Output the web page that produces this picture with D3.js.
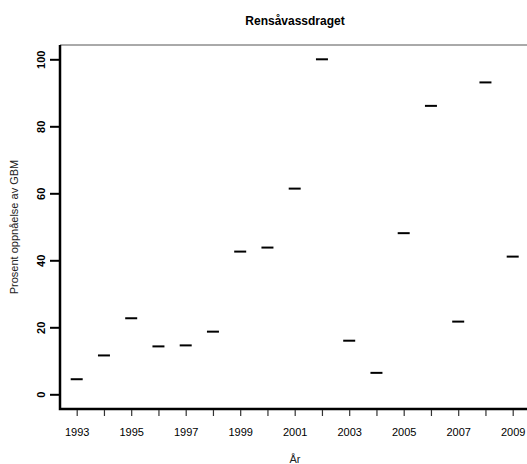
<!DOCTYPE html>
<meta charset="utf-8">
<style>
  body { margin: 0; background: #fff; }
  text { font-family: "Liberation Sans", Arial, sans-serif; }
</style>
<body>
<script src="https://cdn.jsdelivr.net/npm/d3@7"></script>
<script>
  // data
  var years = [1993, 1994, 1995, 1996, 1997, 1998, 1999, 2000, 2001,
               2002, 2003, 2004, 2005, 2006, 2007, 2008, 2009];
  var values = [4.5, 11.6, 22.7, 14.3, 14.6, 18.7, 42.6, 43.8, 61.4,
                100, 16.0, 6.4, 48.1, 86.1, 21.7, 93.1, 41.1];
  var yTicks = [0, 20, 40, 60, 80, 100];
  var xLabelYears = [1993, 1995, 1997, 1999, 2001, 2003, 2005, 2007, 2009];

  var W = 527, H = 464;
  var svg = d3.select("body").append("svg")
      .attr("width", W)
      .attr("height", H);

  // plot box (right edge runs past the window, like the original)
  var box = {left: 60, top: 45, right: 530, bottom: 409};

  var x = d3.scaleLinear().domain([1993, 2009]).range([76.7, 512.7]);
  var y = d3.scaleLinear().domain([0, 100]).range([394.3, 59.3]);

  // thin top / right frame
  svg.append("path")
      .attr("d", "M" + box.left + "," + box.top + "H" + box.right + "V" + box.bottom)
      .attr("fill", "none")
      .attr("stroke", "#555")
      .attr("stroke-width", 1);

  // y axis (thick, bold labels, rotated)
  var yAxis = svg.append("g")
      .attr("transform", "translate(" + box.left + ",0)")
      .call(d3.axisLeft(y).tickValues(yTicks).tickSize(10).tickPadding(5).tickSizeOuter(0));
  yAxis.select(".domain").remove();
  yAxis.selectAll(".tick line").attr("stroke", "#000").attr("stroke-width", 2);
  yAxis.selectAll(".tick text")
      .attr("transform", "rotate(-90)")
      .attr("x", 0).attr("y", -19)
      .attr("dy", "0.35em")
      .attr("text-anchor", "middle")
      .style("font-size", "11px")
      .style("font-weight", "bold")
      .attr("fill", "#000");

  // left and bottom lines
  svg.append("path")
      .attr("d", "M" + box.left + "," + box.top + "V" + box.bottom + "H" + box.right)
      .attr("fill", "none")
      .attr("stroke", "#000")
      .attr("stroke-width", 2.5);

  // x axis: tick every year, label every other year
  var xAxis = svg.append("g")
      .attr("transform", "translate(0," + (box.bottom + 1) + ")")
      .call(d3.axisBottom(x).tickValues(years).tickSize(6).tickPadding(12)
            .tickFormat(function(d) { return xLabelYears.indexOf(d) >= 0 ? d : ""; }));
  xAxis.select(".domain").remove();
  xAxis.selectAll(".tick line").attr("stroke", "#333").attr("stroke-width", 1.2);
  xAxis.selectAll(".tick text")
      .style("font-size", "11px")
      .attr("fill", "#000");

  // dashes for each year
  svg.append("g").selectAll("line")
      .data(years)
      .enter().append("line")
      .attr("x1", function(d) { return x(d) - 6; })
      .attr("x2", function(d) { return x(d) + 6; })
      .attr("y1", function(d, i) { return y(values[i]); })
      .attr("y2", function(d, i) { return y(values[i]); })
      .attr("stroke", "#000")
      .attr("stroke-width", 2);

  // titles
  svg.append("text")
      .attr("x", 295).attr("y", 25)
      .attr("text-anchor", "middle")
      .style("font-size", "12px")
      .style("font-weight", "bold")
      .text("Rensåvassdraget");

  svg.append("text")
      .attr("x", 295).attr("y", 463)
      .attr("text-anchor", "middle")
      .style("font-size", "11px")
      .attr("fill", "#222")
      .text("År");

  svg.append("text")
      .attr("transform", "translate(18,227) rotate(-90)")
      .attr("text-anchor", "middle")
      .style("font-size", "11px")
      .attr("fill", "#222")
      .text("Prosent oppnåelse av GBM");
</script>
</body>
